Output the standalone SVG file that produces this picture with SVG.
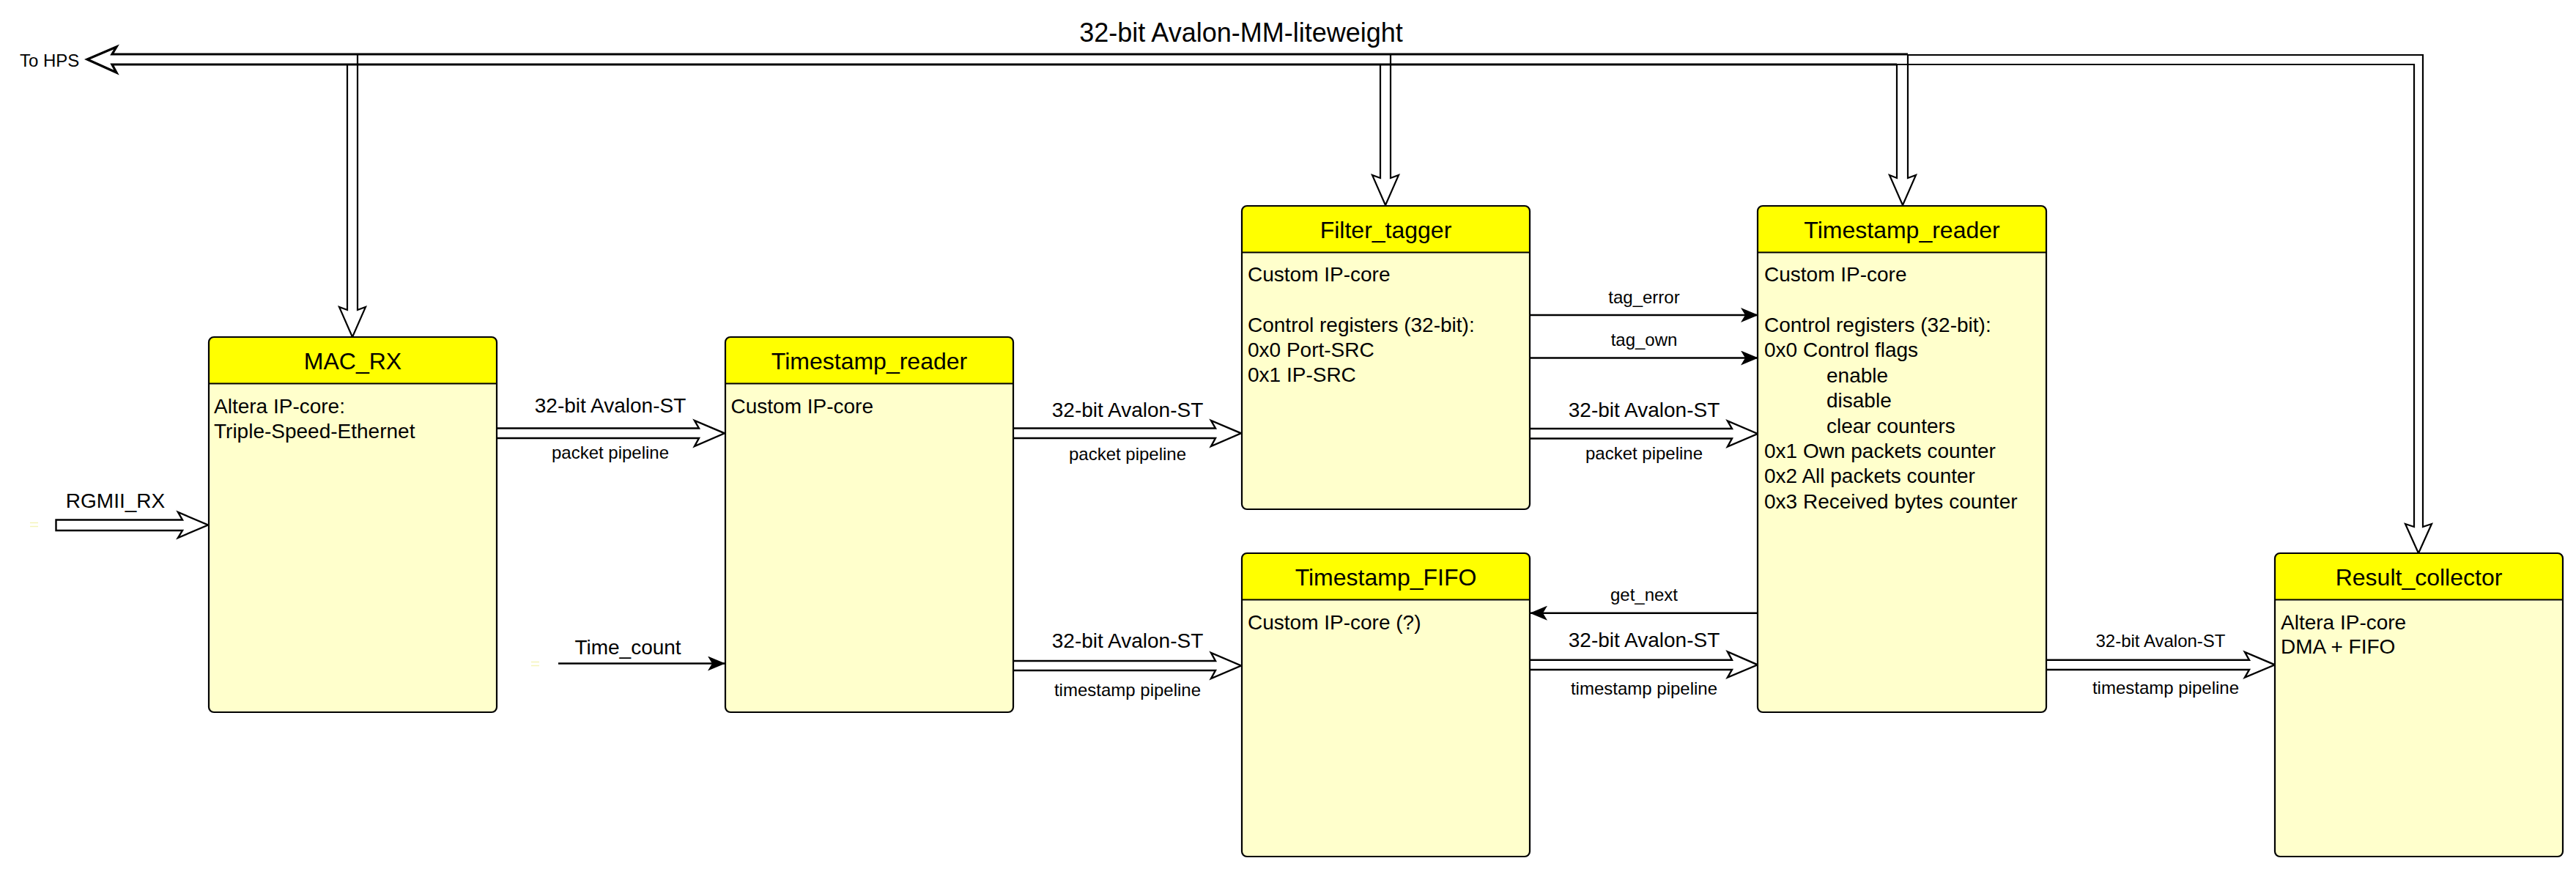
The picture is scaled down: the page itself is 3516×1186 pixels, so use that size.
<svg xmlns="http://www.w3.org/2000/svg" width="3516" height="1186" viewBox="0 0 3516 1186">
<defs>
<style>
.bg{fill:#ffffff}
.body{fill:#ffffcc;stroke:none}
.head{fill:#ffff00;stroke:none}
.frame{fill:none;stroke:#000;stroke-width:2.2}
.sep{stroke:#000;stroke-width:2.2}
.title{font-family:"Liberation Sans",Arial,sans-serif;font-size:32px;text-anchor:middle;fill:#000}
.txt{font-family:"Liberation Sans",Arial,sans-serif;font-size:28px;fill:#000}
.lbl{font-family:"Liberation Sans",Arial,sans-serif;font-size:28px;text-anchor:middle;fill:#000}
.sml{font-family:"Liberation Sans",Arial,sans-serif;font-size:24px;text-anchor:middle;fill:#000}
.blk{fill:#fff;stroke:#000;stroke-width:2.4;stroke-linejoin:miter}
.bus{fill:none;stroke:#000;stroke-width:3.2;stroke-linejoin:miter}
.bus2{fill:none;stroke:#000;stroke-width:2.2;stroke-linejoin:miter}
.wire{fill:none;stroke:#000;stroke-width:2.4}
.mark{stroke:#f4f4b8;stroke-width:1.5}
</style>
<marker id="arr" viewBox="0 0 24 20" refX="23" refY="10" markerWidth="24" markerHeight="20" markerUnits="userSpaceOnUse" orient="auto">
<path d="M0,0 L24,10 L0,20 L6,10 Z" fill="#000"/>
</marker>
</defs>
<rect class="bg" x="0" y="0" width="3516" height="1186"/>

<g id="connectors">
  <!-- Avalon-MM bus -->
  <path class="bus" d="M2604,74 H153 L159,64 L119,81 L159,99 L153,88 H2589"/>
  <path class="bus2" d="M2604,75 H3307 V719 L3319,715 L3301,755 L3283,715 L3295,719 V88 H2589"/>
  <path class="bus2" fill="#fff" d="M488,74 V423 L499,419 L481,460 L463,419 L474,423 V88"/>
  <path class="bus2" d="M1898,74 V243 L1909,239 L1891,280 L1873,239 L1884,243 V88"/>
  <path class="bus2" d="M2604,74 V243 L2615,239 L2597,280 L2579,239 L2589,243 V88"/>
  <text class="lbl" x="1694" y="57" style="font-size:36px">32-bit Avalon-MM-liteweight</text>
  <text class="txt" x="27" y="91" style="font-size:24px">To HPS</text>

  <!-- RGMII_RX -->
  <path class="blk" d="M76.5,709.5 H249 L243,699 L284,716.5 L243,734 L249,724 H76.5 Z"/>
  <text class="lbl" x="157.5" y="692.5">RGMII_RX</text>

  <!-- MAC_RX -> Timestamp_reader -->
  <path class="blk" d="M678,584.5 H954 L948,574 L989,591.3 L948,609 L954,598 H678"/>
  <text class="lbl" x="833" y="563">32-bit Avalon-ST</text>
  <text class="sml" x="833" y="626">packet pipeline</text>

  <!-- Time_count -->
  <line class="wire" x1="762" y1="905.5" x2="989" y2="905.5" marker-end="url(#arr)"/>
  <text class="lbl" x="857" y="892.5">Time_count</text>

  <!-- Timestamp_reader -> Filter_tagger -->
  <path class="blk" d="M1383,584.5 H1659 L1653,574 L1694,591.3 L1653,609 L1659,598 H1383"/>
  <text class="lbl" x="1539" y="569">32-bit Avalon-ST</text>
  <text class="sml" x="1539" y="627.5">packet pipeline</text>

  <!-- Timestamp_reader -> Timestamp_FIFO -->
  <path class="blk" d="M1383,902 H1659 L1653,891 L1694,908.5 L1653,926 L1659,915 H1383"/>
  <text class="lbl" x="1539" y="883.5">32-bit Avalon-ST</text>
  <text class="sml" x="1539" y="949.5">timestamp pipeline</text>

  <!-- Filter_tagger -> Timestamp_reader (2) -->
  <line class="wire" x1="2088" y1="430" x2="2399" y2="430" marker-end="url(#arr)"/>
  <text class="sml" x="2244" y="413.5">tag_error</text>
  <line class="wire" x1="2088" y1="488.5" x2="2399" y2="488.5" marker-end="url(#arr)"/>
  <text class="sml" x="2244" y="472">tag_own</text>
  <path class="blk" d="M2088,585 H2364 L2358,574.5 L2399,592 L2358,609.5 L2364,598.5 H2088"/>
  <text class="lbl" x="2244" y="568.5">32-bit Avalon-ST</text>
  <text class="sml" x="2244" y="626.5">packet pipeline</text>

  <!-- get_next -->
  <line class="wire" x1="2399" y1="836.7" x2="2089" y2="836.7" marker-end="url(#arr)"/>
  <text class="sml" x="2244" y="820">get_next</text>

  <!-- Timestamp_FIFO -> Timestamp_reader (2) -->
  <path class="blk" d="M2088,900.7 H2364 L2358,889.5 L2399,907.3 L2358,924.5 L2364,914 H2088"/>
  <text class="lbl" x="2244" y="882.7">32-bit Avalon-ST</text>
  <text class="sml" x="2244" y="948.3">timestamp pipeline</text>

  <!-- Timestamp_reader (2) -> Result_collector -->
  <path class="blk" d="M2793,900.7 H3070 L3064,890 L3105,907.3 L3064,924.5 L3070,914 H2793"/>
  <text class="sml" x="2949" y="883.3">32-bit Avalon-ST</text>
  <text class="sml" x="2956" y="947.3">timestamp pipeline</text>

  <!-- faint port marks -->
  <line class="mark" x1="41" y1="713.5" x2="52" y2="713.5"/>
  <line class="mark" x1="41" y1="718.5" x2="52" y2="718.5"/>
  <line class="mark" x1="725" y1="903.5" x2="736" y2="903.5"/>
  <line class="mark" x1="725" y1="908.5" x2="736" y2="908.5"/>
</g>

<g id="mac_rx">
  <rect class="body" x="285" y="460" width="393" height="512" rx="7"/>
  <path class="head" d="M285,523.5 V467 Q285,460 292,460 H671 Q678,460 678,467 V523.5 Z"/>
  <line class="sep" x1="285" y1="523.5" x2="678" y2="523.5"/>
  <rect class="frame" x="285" y="460" width="393" height="512" rx="7"/>
  <text class="title" x="481.5" y="503.5">MAC_RX</text>
  <text class="txt" x="292" y="563.5">Altera IP-core:</text>
  <text class="txt" x="292" y="598">Triple-Speed-Ethernet</text>
</g>

<g id="timestamp_reader_1">
  <rect class="body" x="990" y="460" width="393" height="512" rx="7"/>
  <path class="head" d="M990,523.5 V467 Q990,460 997,460 H1376 Q1383,460 1383,467 V523.5 Z"/>
  <line class="sep" x1="990" y1="523.5" x2="1383" y2="523.5"/>
  <rect class="frame" x="990" y="460" width="393" height="512" rx="7"/>
  <text class="title" x="1186.5" y="503.5">Timestamp_reader</text>
  <text class="txt" x="997.5" y="563.5">Custom IP-core</text>
</g>

<g id="filter_tagger">
  <rect class="body" x="1695" y="281" width="393" height="414" rx="7"/>
  <path class="head" d="M1695,344.5 V288 Q1695,281 1702,281 H2081 Q2088,281 2088,288 V344.5 Z"/>
  <line class="sep" x1="1695" y1="344.5" x2="2088" y2="344.5"/>
  <rect class="frame" x="1695" y="281" width="393" height="414" rx="7"/>
  <text class="title" x="1891.5" y="324.5">Filter_tagger</text>
  <text class="txt" x="1703" y="384">Custom IP-core</text>
  <text class="txt" x="1703" y="453">Control registers (32-bit):</text>
  <text class="txt" x="1703" y="487">0x0 Port-SRC</text>
  <text class="txt" x="1703" y="521">0x1 IP-SRC</text>
</g>

<g id="timestamp_fifo">
  <rect class="body" x="1695" y="755" width="393" height="414" rx="7"/>
  <path class="head" d="M1695,818.5 V762 Q1695,755 1702,755 H2081 Q2088,755 2088,762 V818.5 Z"/>
  <line class="sep" x1="1695" y1="818.5" x2="2088" y2="818.5"/>
  <rect class="frame" x="1695" y="755" width="393" height="414" rx="7"/>
  <text class="title" x="1891.5" y="798.5">Timestamp_FIFO</text>
  <text class="txt" x="1703" y="858.5">Custom IP-core (?)</text>
</g>

<g id="timestamp_reader_2">
  <rect class="body" x="2399" y="281" width="394" height="691" rx="7"/>
  <path class="head" d="M2399,344.5 V288 Q2399,281 2406,281 H2786 Q2793,281 2793,288 V344.5 Z"/>
  <line class="sep" x1="2399" y1="344.5" x2="2793" y2="344.5"/>
  <rect class="frame" x="2399" y="281" width="394" height="691" rx="7"/>
  <text class="title" x="2596" y="324.5">Timestamp_reader</text>
  <text class="txt" x="2408" y="384">Custom IP-core</text>
  <text class="txt" x="2408" y="453">Control registers (32-bit):</text>
  <text class="txt" x="2408" y="487">0x0 Control flags</text>
  <text class="txt" x="2493" y="521.5">enable</text>
  <text class="txt" x="2493" y="556">disable</text>
  <text class="txt" x="2493" y="590.5">clear counters</text>
  <text class="txt" x="2408" y="624.5">0x1 Own packets counter</text>
  <text class="txt" x="2408" y="659">0x2 All packets counter</text>
  <text class="txt" x="2408" y="693.5">0x3 Received bytes counter</text>
</g>

<g id="result_collector">
  <rect class="body" x="3105" y="755" width="393" height="414" rx="7"/>
  <path class="head" d="M3105,818.5 V762 Q3105,755 3112,755 H3491 Q3498,755 3498,762 V818.5 Z"/>
  <line class="sep" x1="3105" y1="818.5" x2="3498" y2="818.5"/>
  <rect class="frame" x="3105" y="755" width="393" height="414" rx="7"/>
  <text class="title" x="3301.5" y="798.5">Result_collector</text>
  <text class="txt" x="3113" y="858.5">Altera IP-core</text>
  <text class="txt" x="3113" y="892">DMA + FIFO</text>
</g>
</svg>
